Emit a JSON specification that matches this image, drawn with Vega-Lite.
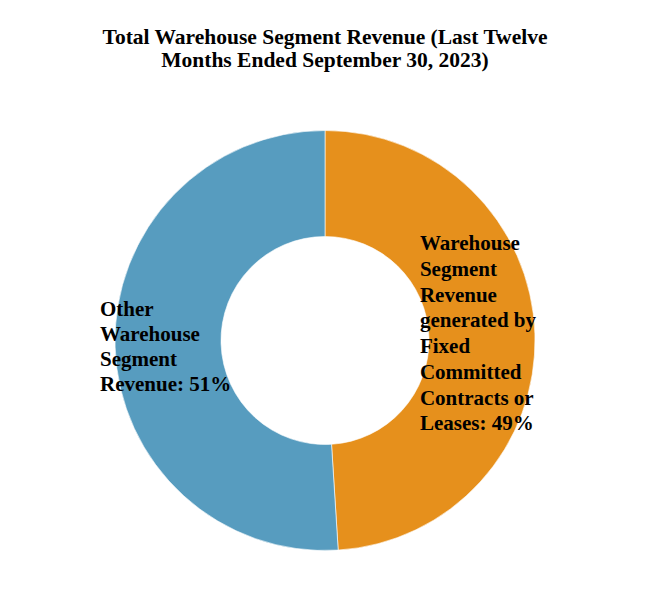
{
  "$schema": "https://vega.github.io/schema/vega-lite/v6.json",
  "width": 650,
  "height": 600,
  "autosize": {"type": "fit", "contains": "padding"},
  "padding": {"top": 26, "left": 0, "right": 0, "bottom": 0},
  "background": "white",
  "title": {
    "text": ["Total Warehouse Segment Revenue (Last Twelve", "Months Ended September 30, 2023)"],
    "font": "Liberation Serif",
    "fontSize": 21.5,
    "fontWeight": "bold",
    "lineHeight": 23,
    "color": "black",
    "anchor": "middle",
    "offset": 10
  },
  "data": {
    "values": [
      {"rank": 1, "segment": "Fixed Committed", "value": 49, "label": ["Warehouse", "Segment", "Revenue", "generated by", "Fixed", "Committed", "Contracts or", "Leases: 49%"]},
      {"rank": 2, "segment": "Other", "value": 51, "label": ["Other", "Warehouse", "Segment", "Revenue: 51%"]}
    ]
  },
  "resolve": {"scale": {"theta": "independent"}},
  "layer": [
    {
      "mark": {"type": "arc", "outerRadius": 210, "innerRadius": 104, "stroke": "white", "strokeWidth": 0.6},
      "encoding": {
        "theta": {"field": "value", "type": "quantitative", "stack": true},
        "order": {"field": "rank", "type": "quantitative"},
        "color": {
          "field": "segment",
          "type": "nominal",
          "scale": {"domain": ["Fixed Committed", "Other"], "range": ["#E6901C", "#579CBF"]},
          "legend": null
        }
      }
    },
    {
      "transform": [{"filter": "datum.rank == 1"}],
      "mark": {"type": "text", "radius": 130.9, "align": "left", "baseline": "alphabetic", "font": "Liberation Serif", "fontSize": 21, "fontWeight": "bold", "lineHeight": 25.7, "color": "black"},
      "encoding": {
        "theta": {"field": "value", "type": "quantitative", "stack": true, "scale": {"range": [0, 1.623]}},
        "text": {"field": "label"}
      }
    },
    {
      "transform": [{"filter": "datum.rank == 2"}],
      "mark": {"type": "text", "radius": 226.4, "align": "left", "baseline": "alphabetic", "font": "Liberation Serif", "fontSize": 21, "fontWeight": "bold", "lineHeight": 25, "color": "black"},
      "encoding": {
        "theta": {"field": "value", "type": "quantitative", "stack": true, "scale": {"range": [0, 9.646]}},
        "text": {"field": "label"}
      }
    }
  ]
}
